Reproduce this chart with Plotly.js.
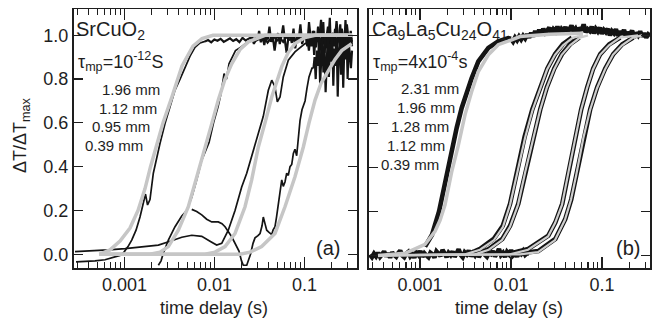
<!DOCTYPE html>
<html><head><meta charset="utf-8">
<script src="https://cdn.plot.ly/plotly-3.0.1.min.js"></script>
<style>html,body{margin:0;padding:0;background:#fff}#chart{width:652px;height:320px}#status{position:absolute;left:0;top:0;width:4px;height:4px;font:2px monospace;color:#fff;background:transparent;overflow:hidden}</style>
</head><body><div id="chart"></div><div id="status"></div>
<script>
// ---------- DATA (x values are log10 of time delay in seconds) ----------
// Panel (a) SrCuO2 — fits (gray)
const srFit039_L = [-3.28,-3.161,-3.05,-2.939,-2.85,-2.772,-2.711,-2.661,-2.572,-2.472,-2.361,-2.239,-2.139,-2.017,-1.70,-1.30,-0.90,-0.472];
const srFit039_Y = [0,0.02,0.06,0.12,0.2,0.3,0.4,0.476,0.6,0.72,0.86,0.95,0.985,1.0,1.0,1.0,1.0,1.0];
const srFit095_L = [-3.28,-2.717,-2.606,-2.513,-2.402,-2.291,-2.217,-2.142,-2.087,-2.028,-1.958,-1.883,-1.809,-1.717,-1.624,-1.439,-1.0,-0.472];
const srFit095_Y = [0,0,0.01,0.035,0.11,0.217,0.324,0.43,0.506,0.6,0.704,0.8,0.87,0.935,0.97,1.0,1.0,1.0];
const srFit112_L = [-3.28,-2.106,-1.994,-1.883,-1.772,-1.661,-1.587,-1.513,-1.439,-1.364,-1.253,-1.183,-1.106,-0.994,-0.883,-0.472];
const srFit112_Y = [0,0,0.01,0.035,0.095,0.217,0.34,0.49,0.6,0.718,0.857,0.92,0.962,0.99,1.0,1.0];
const srFit196_L = [-3.28,-1.717,-1.606,-1.476,-1.328,-1.217,-1.106,-1.013,-0.95,-0.883,-0.817,-0.736,-0.661,-0.587,-0.476];
const srFit196_Y = [0,0,0.01,0.035,0.095,0.217,0.354,0.49,0.6,0.704,0.78,0.84,0.89,0.93,0.962];

// Panel (a) SrCuO2 — measured (black)
const srData039_L = [-3.539,-3.439,-3.328,-3.217,-3.128,-3.05,-3.006,-2.961,-2.92,-2.872,-2.828,-2.783,-2.767,-2.744,-2.717,-2.68,-2.642,-2.606,-2.55,-2.494,-2.439,-2.383,-2.328,-2.272,-2.217,-2.161];
const srData039_Y = [-0.035,-0.033,-0.03,-0.025,-0.015,-0.005,0.01,0.035,0.065,0.11,0.17,0.245,0.275,0.225,0.25,0.37,0.445,0.506,0.597,0.68,0.75,0.80,0.85,0.905,0.945,0.965];
const srData039_plateau = [0.972,0.978,0.968,0.981,0.975,0.984,0.97,0.979,0.986,0.974,0.982,0.969,0.988,0.976,0.983,0.992,0.971,0.985,0.978,0.99,0.967,0.984,0.995,0.975,0.987,0.97,0.993,0.98,0.986,0.965,0.991,0.978,0.998,0.972,0.985,0.96,0.99,0.982,0.975,0.995,0.968,0.988,0.979,0.993,0.962,0.985,0.977,0.99];

const srData095_L = [-2.624,-2.594,-2.569,-2.513,-2.439,-2.364,-2.309,-2.253,-2.198,-2.142,-2.061,-2.011,-1.961,-1.928,-1.894,-1.867,-1.839,-1.767,-1.703,-1.63];
const srData095_Y = [-0.05,-0.03,0.005,0.065,0.126,0.175,0.2,0.26,0.34,0.43,0.51,0.6,0.673,0.734,0.825,0.80,0.87,0.93,0.947,0.97];
const srData095_plateau = [0.972,0.985,0.96,0.99,0.975,1.02,0.968,0.995,0.955,1.0,0.98,1.04,0.97,0.99,0.93,0.985,1.01,0.96,0.995,1.045,0.975,0.92,0.99,1.0,0.965,1.03,0.94,0.995,0.98,1.05,0.96,0.99,1.0,0.95,1.06,0.985,0.97,1.02,0.945,1.0,0.99,1.07,0.96,1.0,0.98,1.04,0.93,0.995,1.01,0.97,1.065,0.985,0.955,1.03,0.99,0.94,1.05,0.98,1.0,0.97];

const srData112_L = [-3.55,-3.383,-3.18,-2.994,-2.809,-2.624,-2.476,-2.364,-2.253,-2.142,-2.031,-1.976,-1.92,-1.883,-1.847,-1.772,-1.698,-1.642,-1.587,-1.531,-1.494,-1.458,-1.402,-1.364,-1.328,-1.302,-1.272,-1.236,-1.18,-1.106,-0.994];
const srData112_Y = [0.012,0.015,0.02,0.026,0.035,0.042,0.062,0.078,0.087,0.082,0.055,0.042,0.05,0.08,0.11,0.2,0.307,0.37,0.445,0.52,0.58,0.63,0.749,0.795,0.764,0.696,0.718,0.81,0.886,0.924,0.962];
const srData112_plateau = [0.962,0.98,0.93,0.99,0.95,1.02,0.91,0.985,0.97,1.04,0.9,0.99,0.96,1.06,0.92,1.0,0.94,0.98,1.08,0.89,0.995,0.95,1.03,0.88,0.99,0.97,1.05,0.91,1.0,0.94,1.07,0.93,0.99,0.96,1.02,0.95];

const srData196_L = [-2.253,-2.198,-2.142,-2.087,-2.031,-1.958,-1.917,-1.883,-1.809,-1.761,-1.728,-1.7,-1.68,-1.642,-1.617,-1.6,-1.572,-1.55,-1.517,-1.494,-1.472,-1.458,-1.439,-1.42,-1.394,-1.364,-1.35,-1.328,-1.311,-1.291,-1.272,-1.253,-1.236,-1.217,-1.198,-1.18,-1.161,-1.142,-1.124,-1.106,-1.087,-1.069,-1.05,-1.028,-0.994,-0.972,-0.95,-0.917];
const srData196_Y = [0.205,0.195,0.18,0.16,0.148,0.148,0.14,0.126,0.08,0.045,0.015,-0.03,-0.05,-0.05,-0.02,0.0,0.05,0.075,0.085,0.095,0.13,0.17,0.14,0.11,0.10,0.09,0.11,0.126,0.17,0.23,0.29,0.34,0.31,0.33,0.37,0.36,0.40,0.41,0.46,0.48,0.45,0.53,0.61,0.66,0.70,0.76,0.81,0.85];
const srData196_plateau = [0.85,0.9,0.8,0.93,0.86,0.97,0.78,0.91,0.99,0.83,0.95,0.74,0.92,1.0,0.81,0.96,0.88,1.01,0.77,0.94,0.86,0.99,0.72,0.93,0.97,0.82,1.0,0.76,0.95,0.89,1.02,0.8,0.97,0.9,0.85,0.93];

// Panel (b) Ca9La5Cu24O41 — fits (gray)
const caFit039_L = [-3.462,-3.275,-3.165,-3.055,-2.945,-2.835,-2.78,-2.725,-2.652,-2.579,-2.505,-2.432,-2.359,-2.249,-2.14,-1.992,-1.901,-1.571,-1.209];
const caFit039_Y = [0,0.005,0.01,0.03,0.05,0.11,0.16,0.23,0.38,0.5,0.64,0.745,0.836,0.912,0.958,0.98,0.995,1.005,1.01];
const caFit112_L = [-3.462,-2.505,-2.341,-2.187,-2.088,-2.011,-1.929,-1.846,-1.764,-1.681,-1.604,-1.516,-1.429,-1.319,-1.209];
const caFit112_Y = [0,0.005,0.026,0.07,0.13,0.23,0.38,0.534,0.66,0.76,0.845,0.912,0.955,0.99,1.0];
const caFit128_L = [-3.462,-2.396,-2.245,-2.099,-2.011,-1.923,-1.843,-1.758,-1.681,-1.608,-1.527,-1.443,-1.352,-1.242,-1.154];
const caFit128_Y = [0,0.005,0.026,0.07,0.13,0.23,0.38,0.534,0.66,0.76,0.845,0.912,0.955,0.99,1.0];
const caFit196_L = [-3.462,-2.011,-1.813,-1.593,-1.516,-1.44,-1.368,-1.297,-1.231,-1.165,-1.099,-1.022,-0.923,-0.802,-0.604];
const caFit196_Y = [0,0.005,0.026,0.086,0.147,0.23,0.38,0.534,0.66,0.76,0.845,0.912,0.955,0.99,1.0];
const caFit231_L = [-3.462,-1.901,-1.703,-1.516,-1.407,-1.341,-1.286,-1.205,-1.132,-1.055,-0.967,-0.879,-0.78,-0.659,-0.56];
const caFit231_Y = [0,0.005,0.015,0.07,0.162,0.253,0.36,0.534,0.66,0.76,0.845,0.912,0.955,0.99,1.0];

// Panel (b) — measured (black)
const caBaseline_range = [-3.55, -1.80];
const caBaseline_Y = [0.004,-0.008,0.008,-0.004,0.012,-0.006,0.005,0.018,-0.004,0.01,-0.01,0.014,0.002,-0.006,0.01,0.022,0.0,-0.008,0.008,0.016,-0.004,0.006,-0.01,0.014,0.003,0.02,-0.006,0.01,0.0,-0.008,0.012,0.005,-0.009,0.018,0.008,-0.003,0.025,0.006,-0.007,0.012,0.002,0.018,-0.006,0.01,0.028,0.003,-0.008,0.014,0.005,0.022,-0.004,0.01,0.0,0.018,-0.007,0.008,0.026,0.003,-0.006,0.012,0.006,0.02,-0.004,0.009,0.03,0.002,0.012,-0.007,0.016,0.005,0.024,0.0,0.009,-0.005,0.014,0.006,0.02,0.003,0.011,0.008];
const caData039_L = [-2.945,-2.868,-2.791,-2.736,-2.698,-2.652,-2.597,-2.542,-2.487,-2.432,-2.359,-2.249,-2.14,-2.03];
const caData039_Y = [0.04,0.094,0.2,0.306,0.382,0.488,0.58,0.67,0.745,0.806,0.882,0.943,0.973,0.988];
const caData039_plateau = [0.985,0.972,0.99,0.978,0.995,0.982,0.998,0.986,1.005,0.99,1.012,0.995,1.02,1.0,1.025,1.008,1.03,1.012,1.022,1.035,1.01,1.028,1.018,1.04,1.015,1.03,1.02,1.038,1.012,1.025,1.045,1.018,1.03,1.01,1.035,1.022,1.05,1.015,1.028,1.02,1.04,1.01,1.03,1.018,1.035,1.008,1.025,1.015,1.03,1.0,1.02,1.01,1.028,0.998,1.018,1.005,1.025,0.995,1.015,1.002,1.022,0.99,1.012,1.0,1.018,0.995,1.01,0.99,1.005,0.998];
const caData112_L = [-2.45,-2.34,-2.19,-2.09,-2.01,-1.93,-1.85,-1.765,-1.68,-1.6,-1.515,-1.43,-1.33];
const caData112_Y = [0.01,0.03,0.075,0.135,0.235,0.385,0.54,0.665,0.765,0.85,0.915,0.96,0.99];
const caData128_L = [-2.35,-2.24,-2.095,-2.01,-1.92,-1.84,-1.755,-1.678,-1.605,-1.524,-1.44,-1.35,-1.25];
const caData128_Y = [0.01,0.03,0.075,0.135,0.235,0.385,0.54,0.665,0.765,0.85,0.915,0.96,0.99];
const caData196_L = [-2.0,-1.81,-1.59,-1.513,-1.437,-1.365,-1.294,-1.228,-1.162,-1.096,-1.019,-0.92,-0.8];
const caData196_Y = [0.01,0.03,0.09,0.15,0.235,0.385,0.54,0.665,0.765,0.85,0.915,0.96,0.99];
const caData231_L = [-1.89,-1.70,-1.513,-1.404,-1.338,-1.283,-1.202,-1.129,-1.052,-0.964,-0.876,-0.777,-0.656];
const caData231_Y = [0.01,0.02,0.075,0.165,0.255,0.365,0.54,0.665,0.765,0.85,0.915,0.96,0.99];

// Tick labels and text
const xMajorVals = [0.001, 0.01, 0.1];
const xMajorText = ['0.001', '0.01', '0.1'];
const yTickVals = [0, 0.2, 0.4, 0.6, 0.8, 1.0];
const yTickText = ['0.0', '0.2', '0.4', '0.6', '0.8', '1.0'];
const sampleThicknessA = ['1.96 mm', '1.12 mm', '0.95 mm', '0.39 mm'];
const sampleThicknessB = ['2.31 mm', '1.96 mm', '1.28 mm', '1.12 mm', '0.39 mm'];

// ---------- BUILD (scoped) ----------
(() => {
  const W = 652, H = 320;
  const p10 = v => Math.pow(10, v);
  const BLK = '#141414', GRY = '#c6c6c6', INK = '#1e1e1e';
  const FONT = 'Liberation Sans, Arial, Helvetica, sans-serif';
  const spread = (l0, l1, P) => P.map((_, i) => l0 + (l1 - l0) * i / (P.length - 1));
  const merged = (parts, xa, ya, color, width) => {
    const x = [], y = [];
    parts.forEach((p, k) => {
      if (k) { x.push(null); y.push(null); }
      p[0].forEach((l, i) => { x.push(p10(l)); y.push(p[1][i]); });
    });
    return { type: 'scatter', mode: 'lines', x: x, y: y, xaxis: xa, yaxis: ya, connectgaps: false,
      line: { color: color, width: width }, hoverinfo: 'skip', showlegend: false };
  };
  const withJoin = (L, Y, l0, P) => [L.concat([l0]), Y.concat([P[0]])];

  const traces = [
    merged([withJoin(srData039_L, srData039_Y, -2.106, srData039_plateau),
            withJoin(srData095_L, srData095_Y, -1.60, srData095_plateau),
            withJoin(srData112_L, srData112_Y, -0.98, srData112_plateau),
            withJoin(srData196_L, srData196_Y, -0.90, srData196_plateau)], 'x', 'y', BLK, 1.7),
    merged([[spread(-2.106, -0.472, srData039_plateau), srData039_plateau],
            [spread(-1.60, -0.472, srData095_plateau), srData095_plateau],
            [spread(-0.98, -0.472, srData112_plateau), srData112_plateau],
            [spread(-0.90, -0.472, srData196_plateau), srData196_plateau]], 'x', 'y', BLK, 2.2),
    merged([[srFit039_L, srFit039_Y], [srFit095_L, srFit095_Y], [srFit112_L, srFit112_Y], [srFit196_L, srFit196_Y]], 'x', 'y', GRY, 3.5),
    merged([[spread(caBaseline_range[0], caBaseline_range[1], caBaseline_Y), caBaseline_Y],
            withJoin(caData039_L, caData039_Y, -2.00, caData039_plateau),
            [spread(-2.00, -0.47, caData039_plateau), caData039_plateau],
            [caData112_L, caData112_Y], [caData128_L, caData128_Y],
            [caData196_L, caData196_Y], [caData231_L, caData231_Y]], 'x2', 'y2', BLK, 4.6),
    merged([[caFit039_L, caFit039_Y]], 'x2', 'y2', GRY, 3.5),
    merged([[caFit112_L, caFit112_Y], [caFit128_L, caFit128_Y], [caFit196_L, caFit196_Y], [caFit231_L, caFit231_Y]], 'x2', 'y2', '#cdcdcd', 2.2)
  ];

  const minorVals = [];
  [-4, -3, -2, -1].forEach(e => { for (let k = 2; k <= 9; k++) minorVals.push(k * Math.pow(10, e)); });

  const mkX = (domain, range, anchor) => ({ type: 'log', domain: domain, range: range, anchor: anchor,
    showline: true, linecolor: INK, linewidth: 1.5, mirror: 'ticks',
    ticks: 'inside', ticklen: 11, tickwidth: 1.2, tickcolor: INK,
    tickmode: 'array', tickvals: xMajorVals, ticktext: xMajorText,
    minor: { tickvals: minorVals, ticks: 'inside', ticklen: 6, tickwidth: 1.2, tickcolor: INK },
    showgrid: false, zeroline: false, tickfont: { family: FONT, size: 18, color: INK } });
  const mkY = (range, anchor, labels) => ({ domain: [1 - 268 / H, 1 - 9 / H], range: range, anchor: anchor,
    showline: true, linecolor: INK, linewidth: 1.5, mirror: 'ticks',
    ticks: 'inside', ticklen: 9, tickwidth: 1.2, tickcolor: INK,
    tickmode: 'array', tickvals: yTickVals, ticktext: yTickText, showticklabels: labels,
    showgrid: false, zeroline: false, tickfont: { family: FONT, size: 18, color: INK } });

  const ann = [];
  const note = (text, X, Y, size, xanchor, extra) => ann.push(Object.assign({ text: text, x: X / W, y: 1 - Y / H,
    xref: 'paper', yref: 'paper', showarrow: false, xanchor: xanchor, yanchor: 'middle',
    font: { family: FONT, size: size, color: INK } }, extra || {}));
  note('SrCuO<sub>2</sub>', 74, 30, 20, 'left');
  note('τ<sub>mp</sub>=10<sup>-12</sup>S', 76, 62, 18, 'left');
  [[100, 89.5], [96.5, 108], [90, 126.5], [83, 145.5]].forEach((p, i) => note(sampleThicknessA[i], p[0], p[1], 15, 'left'));
  note('(a)', 328, 248, 20, 'center');
  note('Ca<sub>9</sub>La<sub>5</sub>Cu<sub>24</sub>O<sub>41</sub>', 369.5, 30, 20, 'left');
  note('τ<sub>mp</sub>=4x10<sup>-4</sup>s', 370.5, 62, 18, 'left');
  [[399, 88], [395, 107.5], [389, 126.5], [385, 145.5], [379, 164.5]].forEach((p, i) => note(sampleThicknessB[i], p[0], p[1], 15, 'left'));
  note('(b)', 627.5, 248, 20, 'center');
  note('time delay (s)', 214, 308, 18, 'center');
  note('time delay (s)', 508.7, 308, 18, 'center');
  note('ΔT/ΔT<sub>max</sub>', 21, 135, 18, 'center', { textangle: -90 });

  const layout = {
    width: W, height: H, margin: { l: 0, r: 0, t: 0, b: 0 },
    paper_bgcolor: '#fff', plot_bgcolor: '#fff', showlegend: false,
    xaxis: mkX([73.5 / W, 357 / W], [-3.567, -0.4167], 'y'),
    xaxis2: mkX([368.7 / W, 650 / W], [-3.564, -0.4725], 'y2'),
    yaxis: mkY([-0.0626, 1.12], 'x', true),
    yaxis2: mkY([-0.057, 1.12], 'x2', false),
    annotations: ann
  };
  Plotly.newPlot('chart', traces, layout, { staticPlot: true, displayModeBar: false }).then(() => {
    document.getElementById('status').textContent = 'ticks:' + document.querySelectorAll('path.ticks').length;
  });
})();
</script></body></html>
